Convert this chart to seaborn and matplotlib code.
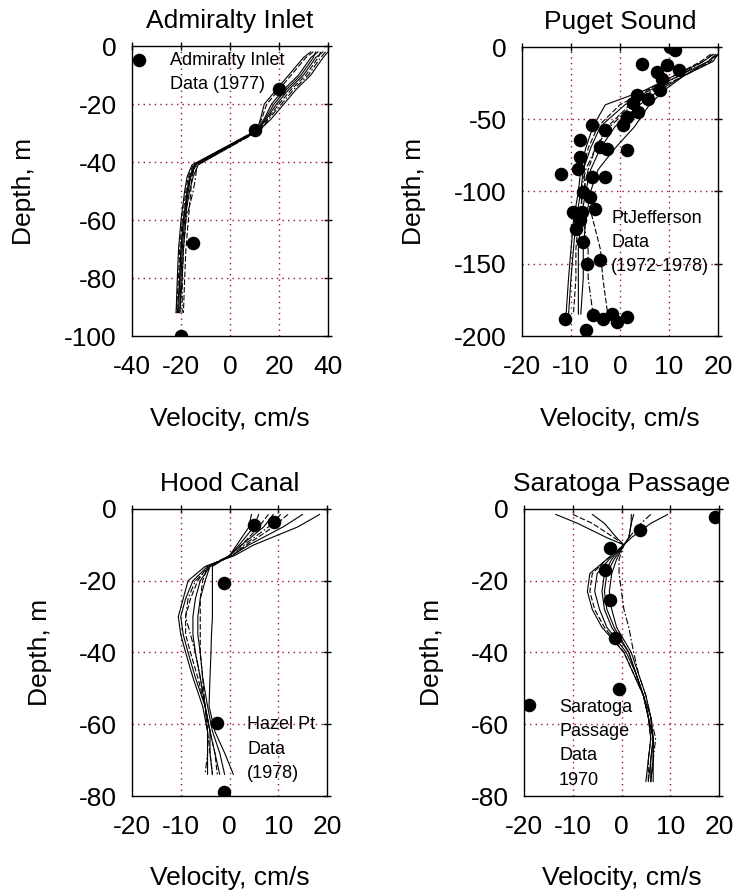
import matplotlib
matplotlib.use("Agg")
import matplotlib.pyplot as plt
import seaborn as sns
import pandas as pd
import numpy as np

# ---------------- data ----------------
# Admiralty Inlet
adm_depth = [-2, -4, -10, -15, -20, -25, -29, -41, -45, -50, -60, -70, -80, -92]
adm_runs = [
    [38, 35, 30, 24, 19, 15, 11.5, -14, -16, -17, -19, -20, -20.5, -21],
    [40, 38, 33, 27, 22, 17, 12, -13, -15, -16.5, -18.5, -19.5, -20, -20.5],
    [34, 31, 25, 20, 15, 13, 11, -15, -17, -18, -19.5, -20.5, -21, -22],
    [36, 33, 28, 22, 17, 14, 11, -14.5, -16.5, -17.5, -19, -20, -20.5, -21.5],
    [39, 37, 32, 26, 21, 16, 12.5, -13.5, -14, -15, -18, -19, -19.5, -19.5],
    [33, 30, 24, 19, 14, 12.5, 11, -15.5, -17.5, -18.5, -20, -21, -21.5, -22],
    [37, 36, 31, 25, 20, 15.5, 12, -14, -15.5, -16, -17, -18, -18.5, -19],
    [35, 34, 29, 23, 18, 14.5, 11.5, -14.5, -16, -17.5, -18, -19, -19.5, -20.5],
]
adm_styles = ["solid", "solid", "dash", "solid", "dashdot", "solid", "dash", "solid"]
adm_obs_vel = [-37, 20, 10, -15, -20]
adm_obs_depth = [-5, -15, -29, -68, -100]

# Puget Sound
pug_depth = [-5, -10, -20, -30, -40, -55, -70, -85, -100, -120, -140, -160, -185]
pug_runs = [
    [19, 17, 11, 5, -3, -5.5, -7, -8, -8.5, -9.5, -10, -10.5, -11],
    [20, 18, 12, 6, 1, -4, -6, -7.5, -8, -9, -9.5, -10, -10.5],
    [20, 18.5, 13, 7, 2, -2.5, -5, -6.5, -7.5, -8.5, -9, -9, -9.5],
    [19.5, 18, 13, 8, 4, -1, -4, -6, -7, -8, -8.5, -8.5, -8.5],
    [20, 19, 13, 9, 6, 3, -1, -4.5, -6, -7, -7.5, -7.5, -8],
    [18.5, 16.5, 11, 5.5, 0, -4.5, -6.5, -7.5, -7, -5.5, -4, -3.5, -2.5],
    [19, 17, 12, 6.5, 2.5, -2, -5, -7, -8, -7.5, -6.5, -6.5, -5.5],
]
pug_styles = ["solid", "solid", "dash", "solid", "solid", "dash", "dashdot"]
pug_obs_vel = [10.2, 11.3, 4.4, 7.5, 9.6, 12, 8.5, 8.2, 3.4, 5.8, 2.7, 3.7, 1.4, 0.7,
               -5.8, -3.1, -8.2, -4.1, -2.7, 1.4, -8.2, -12, -8.5, -5.8, -3.1,
               -7.5, -6.1, -5.1, -9.6, -7.8, -8.2, -8.9, -7.5, -6.8, -4.1,
               -11.3, -7, -5.5, -3.4, -1.7, -0.7, 1.4]
pug_obs_depth = [0, -2.3, -11.5, -17.3, -12.7, -15.7, -22, -30, -33.4, -35.8, -39, -45, -48.4, -54,
                 -54, -57.7, -64.6, -69.2, -70.4, -71, -76, -87.7, -84.2, -90, -90,
                 -100.3, -104, -112, -114, -114, -120, -125.7, -135, -150, -147.6,
                 -188, -196, -185.7, -188, -184.5, -190, -187]

# Hood Canal
hood_depth = [-1.5, -5, -10, -13, -16, -20, -25, -30, -35, -40, -47, -55, -62, -68, -74]
hood_runs = [
    [18.5, 14, 5, 1, -5, -8.5, -9.5, -10.5, -10, -9, -7.5, -5.5, -4.5, -4.5, -4.5],
    [15, 11, 4, 0.5, -4.5, -7.5, -9, -10, -9.5, -8.5, -7, -5, -4, -4, -3.5],
    [12, 9, 3.5, 0.5, -4.5, -6.5, -8, -9, -9, -8, -6.5, -5, -4, -3, -2.5],
    [9, 7, 2.5, 0, -4, -6, -7, -7.5, -7.5, -7, -6, -5, -4, -3, -2],
    [6, 5, 2, 0, -4, -5, -6, -6.5, -6.5, -6, -5.5, -4.5, -3.5, -2, -1],
    [4.5, 4, 1.5, 0, -3.5, -3.5, -3.5, -3.5, -3.7, -3.8, -4, -4.2, -3, -1, 0.8],
    [8, 6, 2.5, 0, -4.5, -5.5, -6, -6, -6, -6, -5.5, -5, -4.5, -4, -3.5],
    [10.5, 8, 3, 0.5, -4, -7, -8.5, -9, -8, -7, -6, -5, -4.5, -4.5, -5],
]
hood_styles = ["solid", "solid", "dash", "solid", "solid", "solid", "dash", "dashdot"]
hood_obs_vel = [5, 9.2, -1.2, -2.6, -1.1]
hood_obs_depth = [-4.5, -3.5, -20.5, -59.7, -78.8]

# Saratoga Passage
sar_depth = [-1.5, -4, -8, -10, -14, -18, -23, -28, -33, -40, -46, -52, -58, -64, -70, -76]
sar_runs = [
    [-13.5, -9, -3, 0.5, -3, -6.5, -7, -6, -4, 0.5, 2.5, 4.5, 5.5, 6, 5.5, 5],
    [-10, -6, -1.5, 0.5, -3, -6, -6.5, -5.5, -3.5, 0.5, 2.5, 4.5, 5.5, 6, 5.5, 5.5],
    [-6, -3.5, -1, 0.5, -2.5, -5, -5.5, -4.5, -3, 1, 3, 4.5, 5.5, 6.5, 6, 6],
    [2, 2, 1.5, 0.5, -2, -3.5, -4, -3.5, -2, 1.5, 3, 4.5, 6, 6.5, 6.5, 6],
    [9.5, 6, 2, 0.5, -1, -2, -2.5, -2, -1, 2, 3.5, 5, 6, 6.5, 6, 5.5],
    [6, 4, 1.5, 0.5, -0.5, -0.5, 0, 0.5, 1.5, 2.5, 3.5, 5, 6, 7, 6.5, 6],
    [2.5, 2, 1.5, 0.5, -1.5, -3, -3.5, -3, -1.5, 1.5, 3, 4.5, 5.5, 6.5, 6.5, 6.5],
]
sar_styles = ["solid", "dash", "solid", "solid", "solid", "dashdot", "solid"]
sar_obs_vel = [19.2, 3.8, -2.4, -3.4, -2.4, -1.4, -0.5, -19]
sar_obs_depth = [-2.1, -5.9, -11, -17, -25.4, -36, -50.3, -54.6]

titles = ["Admiralty Inlet", "Puget Sound", "Hood Canal", "Saratoga Passage"]
xticks = [[-40, -20, 0, 20, 40], [-20, -10, 0, 10, 20], [-20, -10, 0, 10, 20], [-20, -10, 0, 10, 20]]
yticks = [[0, -20, -40, -60, -80, -100], [0, -50, -100, -150, -200],
          [0, -20, -40, -60, -80], [0, -20, -40, -60, -80]]
notes = ["Admiralty Inlet\nData (1977)", "PtJefferson\nData\n(1972-1978)",
         "Hazel Pt\nData\n(1978)", "Saratoga\nPassage\nData\n1970"]

# ---------------- figure ----------------
sns.set_theme(style="white")
plt.rcParams["font.family"] = ["Liberation Sans", "DejaVu Sans"]

W, H = 740, 896
fig = plt.figure(figsize=(W / 100, H / 100), dpi=100)

# axes boxes in pixels: left, right, top, bottom
boxes = [(132, 328, 46, 336), (522, 718, 47, 336), (132, 327, 509, 796), (524, 719, 509, 796)]
ylab_x = [-0.49, -0.49, -0.41, -0.41]
note_pos = [(-24.5, -2.0), (-1.8, -112.5), (3.6, -57.8), (-12.8, -53.0)]

panels = [
    (adm_depth, adm_runs, adm_styles, adm_obs_vel, adm_obs_depth),
    (pug_depth, pug_runs, pug_styles, pug_obs_vel, pug_obs_depth),
    (hood_depth, hood_runs, hood_styles, hood_obs_vel, hood_obs_depth),
    (sar_depth, sar_runs, sar_styles, sar_obs_vel, sar_obs_depth),
]

dash_map = {"solid": "", "dash": (5, 2), "dashdot": (6, 2, 1.5, 2)}
FS = 19

for i, (depth, runs, styles, ov, od) in enumerate(panels):
    l, r, t, b = boxes[i]
    ax = fig.add_axes([l / W, 1 - b / H, (r - l) / W, (b - t) / H])
    rows = []
    for k, (vals, st) in enumerate(zip(runs, styles)):
        for v, d in zip(vals, depth):
            rows.append({"vel": v, "depth": d, "run": k, "ls": st})
    df = pd.DataFrame(rows)
    sns.lineplot(data=df, x="vel", y="depth", units="run", style="ls", dashes=dash_map,
                 estimator=None, sort=False, color="black", lw=0.8, legend=False, ax=ax,
                 zorder=2)
    sns.scatterplot(x=ov, y=od, color="black", s=95, edgecolor="black", linewidth=0,
                    legend=False, ax=ax, zorder=3)

    xt, yt = xticks[i], yticks[i]
    ax.set_xlim(xt[0], xt[-1])
    ax.set_ylim(yt[-1], yt[0])
    ax.set_xticks(xt)
    ax.set_yticks(yt)
    ax.set_xticklabels([str(v) for v in xt])
    ax.set_yticklabels([str(v) for v in yt])
    for v in xt[1:-1]:
        ax.axvline(v, color="#a3123a", lw=1.0, ls=(0, (1, 3)), zorder=1)
    for v in yt[1:-1]:
        ax.axhline(v, color="#a3123a", lw=1.0, ls=(0, (1, 3)), zorder=1)
    ax.grid(False)
    for s in ax.spines.values():
        s.set_color("black")
        s.set_linewidth(1.0)
    ax.tick_params(axis="both", which="major", direction="inout", length=6, width=1,
                   color="black", top=True, right=True, labelsize=FS, labelcolor="black")
    ax.tick_params(axis="x", pad=11)
    ax.tick_params(axis="y", pad=8)

    ax.set_title(titles[i], fontsize=FS, pad=13, color="black")
    ax.set_xlabel("Velocity, cm/s", fontsize=FS, color="black")
    ax.set_ylabel("Depth, m", fontsize=FS, color="black")
    ax.xaxis.set_label_coords(0.5, -0.245)
    ax.yaxis.set_label_coords(ylab_x[i], 0.5)

    nx, ny = note_pos[i]
    ax.text(nx, ny, notes[i], fontsize=13, color="black", ha="left", va="top",
            linespacing=1.55, zorder=4)

fig.savefig("out.png", dpi=100)
